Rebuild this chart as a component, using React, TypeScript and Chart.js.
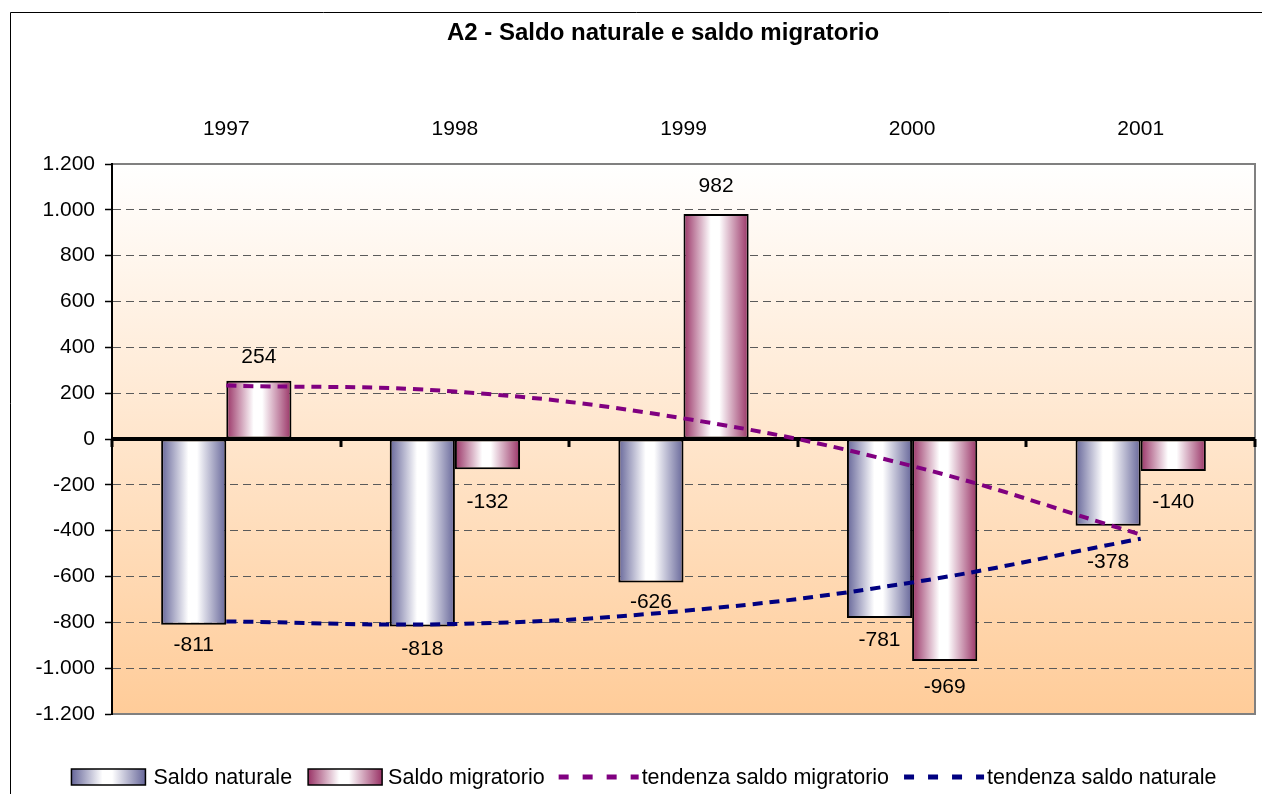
import React, { useEffect, useRef } from 'react';
import { Chart, registerables } from 'chart.js';

Chart.register(...registerables);

// ---- data ----
const years = ['1997', '1998', '1999', '2000', '2001'];
const saldoNaturale = [-811, -818, -626, -781, -378];
const saldoMigratorio = [254, -132, 982, -969, -140];
const tendenzaMigratorio = [233, 207, 90, -118, -417];
const tendenzaNaturale = [-796, -807, -750, -626, -435];
const seriesNames = ['Saldo naturale', 'Saldo migratorio', 'tendenza saldo migratorio', 'tendenza saldo naturale'];
const yMin = -1200;
const yMax = 1200;
const yStep = 200;
const chartTitle = 'A2 - Saldo naturale e saldo migratorio';

// ---- style ----
const FONT = '"Liberation Sans", Arial, Helvetica, sans-serif';
const NAT_EDGE = '#666699';
const MIG_EDGE = '#993366';
const TREND_MIG = '#800080';
const TREND_NAT = '#000080';
const CAT_PCT = 0.57;
// distance (px) between bar end and its value label centre
const labelGapNat = [20, 23, 20, 22, 37];
const labelGapMig = [24, 33, 28, 26, 31];

const fmt = (v: number) => {
  const s = Math.abs(Math.round(v)).toString().replace(/\B(?=(\d{3})+(?!\d))/g, '.');
  return (v < 0 ? '-' : '') + s;
};

const makeGrad = (ctx: CanvasRenderingContext2D, left: number, w: number, edge: string) => {
  const g = ctx.createLinearGradient(left, 0, left + w, 0);
  g.addColorStop(0, edge);
  g.addColorStop(0.42, '#ffffff');
  g.addColorStop(0.55, '#ffffff');
  g.addColorStop(1, edge);
  return g;
};

const barFill = (edge: string) => (c: any) => {
  const chart = c.chart;
  const xs = chart.scales && chart.scales.x;
  if (c.type !== 'data' || !xs || !xs.width) return edge;
  const catW = xs.width / years.length;
  const barW = (catW * CAT_PCT) / 2;
  const center = xs.getPixelForValue(c.dataIndex);
  const left = c.datasetIndex === 0 ? center - barW : center;
  return makeGrad(chart.ctx, left, barW, edge);
};

const decorPlugin = {
  id: 'decor',
  beforeDraw(chart: any) {
    const { ctx, chartArea: a, width, height } = chart;
    ctx.save();
    ctx.fillStyle = '#ffffff';
    ctx.fillRect(0, 0, width, height);
    // outer frame
    ctx.strokeStyle = '#000';
    ctx.lineWidth = 1;
    ctx.beginPath();
    ctx.moveTo(10.5, height);
    ctx.lineTo(10.5, 12.5);
    ctx.lineTo(width, 12.5);
    ctx.stroke();
    // title
    ctx.fillStyle = '#000';
    ctx.font = `bold 24px ${FONT}`;
    ctx.textAlign = 'center';
    ctx.textBaseline = 'middle';
    ctx.fillText(chartTitle, 663, 33);
    // plot background
    const g = ctx.createLinearGradient(0, a.top, 0, a.bottom);
    g.addColorStop(0, '#ffffff');
    g.addColorStop(1, '#ffcc99');
    ctx.fillStyle = g;
    ctx.fillRect(a.left, a.top, a.right - a.left, a.bottom - a.top);
    ctx.strokeStyle = '#808080';
    ctx.lineWidth = 2;
    ctx.beginPath();
    ctx.moveTo(a.left, a.top);
    ctx.lineTo(a.right, a.top);
    ctx.lineTo(a.right, a.bottom);
    ctx.lineTo(a.left, a.bottom);
    ctx.stroke();
    ctx.restore();
  },
  afterDatasetDraw(chart: any, args: any) {
    if (args.index !== 0) return;
    const { ctx, chartArea: a } = chart;
    const y0 = Math.round(chart.scales.y.getPixelForValue(0));
    ctx.save();
    ctx.strokeStyle = '#000';
    ctx.lineWidth = 4;
    ctx.beginPath();
    ctx.moveTo(a.left, y0);
    ctx.lineTo(a.right, y0);
    ctx.stroke();
    const catW = (a.right - a.left) / years.length;
    ctx.lineWidth = 3;
    for (let i = 0; i <= years.length; i++) {
      const x = Math.round(a.left + i * catW);
      ctx.beginPath();
      ctx.moveTo(x, y0);
      ctx.lineTo(x, y0 + 8);
      ctx.stroke();
    }
    ctx.restore();
  },
  afterDatasetsDraw(chart: any) {
    const { ctx } = chart;
    ctx.save();
    ctx.fillStyle = '#000';
    ctx.font = `21px ${FONT}`;
    ctx.textAlign = 'center';
    ctx.textBaseline = 'middle';
    [0, 1].forEach((di) => {
      const meta = chart.getDatasetMeta(di);
      const data = chart.data.datasets[di].data as number[];
      const gaps = di === 0 ? labelGapNat : labelGapMig;
      meta.data.forEach((el: any, i: number) => {
        const v = data[i];
        const y = v >= 0 ? el.y - gaps[i] : el.y + gaps[i];
        ctx.fillText(fmt(v), el.x, y);
      });
    });
    ctx.restore();
  },
  afterDraw(chart: any) {
    const { ctx } = chart;
    const ds = chart.data.datasets;
    ctx.save();
    ctx.font = `21.5px ${FONT}`;
    ctx.textBaseline = 'middle';
    ctx.textAlign = 'left';
    const yC = 777;
    const items = ds.map((d: any) => ({
      kind: d.type,
      text: d.label as string,
      color: d.type === 'bar' ? d.edgeColor : d.borderColor,
      tw: ctx.measureText(d.label).width,
    }));
    const swWs = [74, 74, 80, 80];
    const gapSw = [8, 6, 3, 3];
    const gapItem = [16, 14, 15, 0];
    let total = 0;
    items.forEach((it: any, i: number) => {
      total += swWs[i] + gapSw[i] + it.tw + gapItem[i];
    });
    let x = 644 - total / 2;
    items.forEach((it: any, i: number) => {
      const swW = swWs[i];
      if (it.kind === 'bar') {
        ctx.fillStyle = makeGrad(ctx, x, swW, it.color);
        ctx.fillRect(x, yC - 8, swW, 16);
        ctx.strokeStyle = '#000';
        ctx.lineWidth = 1.5;
        ctx.strokeRect(x, yC - 8, swW, 16);
      } else {
        ctx.strokeStyle = it.color;
        ctx.lineWidth = 5;
        ctx.setLineDash([10, 14]);
        ctx.beginPath();
        ctx.moveTo(x, yC);
        ctx.lineTo(x + swW, yC);
        ctx.stroke();
        ctx.setLineDash([]);
      }
      x += swW + gapSw[i];
      ctx.fillStyle = '#000';
      ctx.fillText(it.text, x, yC + 1);
      x += it.tw + gapItem[i];
    });
    ctx.restore();
  },
};

export default function App() {
  const ref = useRef<HTMLCanvasElement | null>(null);
  useEffect(() => {
    if (!ref.current) return;
    const chart = new Chart(ref.current, {
      type: 'bar',
      data: {
        labels: years,
        datasets: [
          {
            type: 'bar',
            label: seriesNames[0],
            data: saldoNaturale,
            backgroundColor: barFill(NAT_EDGE),
            edgeColor: NAT_EDGE,
            borderColor: '#000',
            borderWidth: 2,
            borderSkipped: false,
            categoryPercentage: CAT_PCT,
            barPercentage: 1,
            order: 2,
          } as any,
          {
            type: 'bar',
            label: seriesNames[1],
            data: saldoMigratorio,
            backgroundColor: barFill(MIG_EDGE),
            edgeColor: MIG_EDGE,
            borderColor: '#000',
            borderWidth: 2,
            borderSkipped: false,
            categoryPercentage: CAT_PCT,
            barPercentage: 1,
            order: 2,
          } as any,
          {
            type: 'line',
            label: seriesNames[2],
            data: tendenzaMigratorio,
            borderColor: TREND_MIG,
            borderWidth: 4,
            borderDash: [10, 7],
            pointRadius: 0,
            tension: 0.4,
            fill: false,
            order: 1,
          } as any,
          {
            type: 'line',
            label: seriesNames[3],
            data: tendenzaNaturale,
            borderColor: TREND_NAT,
            borderWidth: 4,
            borderDash: [10, 7],
            pointRadius: 0,
            tension: 0.4,
            fill: false,
            order: 1,
          } as any,
        ],
      },
      options: {
        responsive: false,
        animation: false,
        devicePixelRatio: 1,
        layout: { padding: { left: 0, right: 7, top: 0, bottom: 80 } },
        plugins: {
          legend: { display: false },
          title: { display: false },
          tooltip: { enabled: false },
        },
        scales: {
          x: {
            position: 'top',
            offset: true,
            grid: { display: false, drawTicks: false },
            border: { display: false },
            ticks: {
              color: '#000',
              font: { family: FONT, size: 21 },
              padding: 22,
              maxRotation: 0,
              autoSkip: false,
            },
            afterFit: (s: any) => {
              s.height = 164;
            },
          },
          y: {
            min: yMin,
            max: yMax,
            ticks: {
              stepSize: yStep,
              color: '#000',
              font: { family: FONT, size: 21 },
              padding: 10,
              callback: (v: any) => fmt(Number(v)),
            },
            grid: {
              color: (c: any) =>
                c.tick && (c.tick.value === 0 || c.tick.value === yMin || c.tick.value === yMax)
                  ? 'rgba(0,0,0,0)'
                  : '#5a5a5a',
              lineWidth: 1,
              tickColor: '#000',
              tickLength: 7,
              tickWidth: 1.5,
              tickBorderDash: [],
            },
            border: { display: true, color: '#000', width: 2, dash: [8, 5] },
            afterFit: (s: any) => {
              s.width = 112;
            },
          },
        },
      } as any,
      plugins: [decorPlugin],
    });
    return () => chart.destroy();
  }, []);
  return (
    <div style={{ position: 'fixed', left: 0, top: 0, width: 1262, height: 794, background: '#fff' }}>
      <canvas ref={ref} width={1262} height={794} />
    </div>
  );
}
